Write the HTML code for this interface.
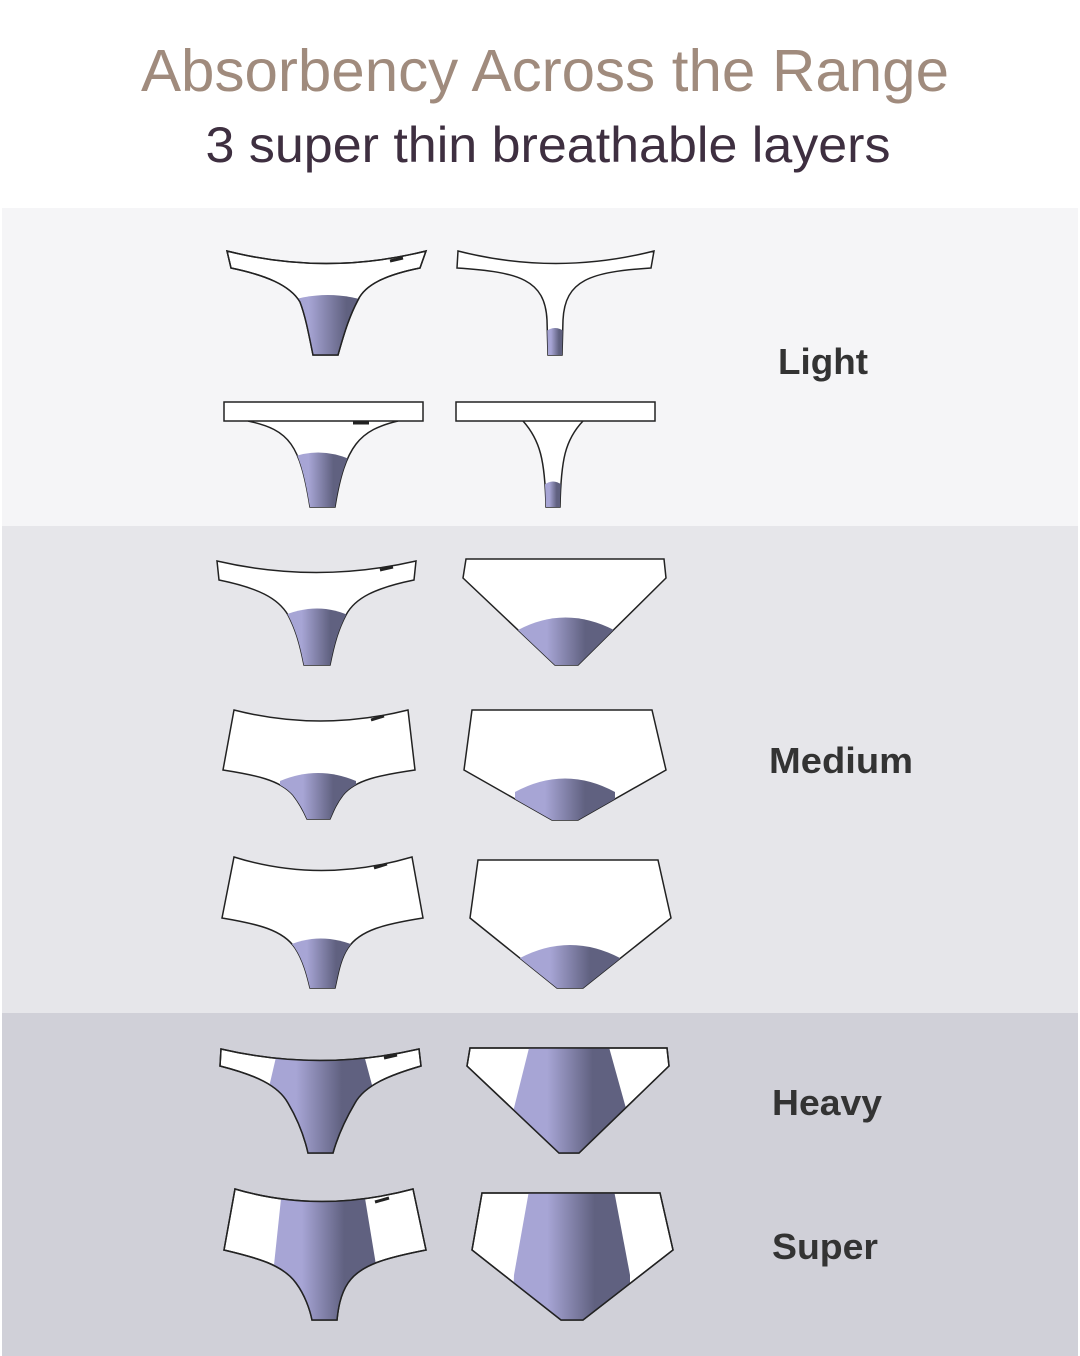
<!DOCTYPE html>
<html><head><meta charset="utf-8"><style>
html,body{margin:0;padding:0;background:#fff}
svg{display:block}
</style></head><body>
<svg width="1080" height="1356" viewBox="0 0 1080 1356" xmlns="http://www.w3.org/2000/svg">
<defs>
<linearGradient id="g" x1="0" y1="0" x2="1" y2="0">
<stop offset="0.3" stop-color="#a7a5d5"/><stop offset="0.7" stop-color="#606180"/>
</linearGradient>
</defs>
<rect width="1080" height="1356" fill="#fff"/>
<rect x="2" y="208" width="1076" height="318" fill="#f5f5f7"/>
<rect x="2" y="526" width="1076" height="487" fill="#e6e6ea"/>
<rect x="2" y="1013" width="1076" height="343" fill="#d0d0d8"/>
<text x="545" y="91" text-anchor="middle" font-family="Liberation Sans, sans-serif" font-size="59" fill="#a08b7d" textLength="808" lengthAdjust="spacingAndGlyphs">Absorbency Across the Range</text>
<text x="548" y="162" text-anchor="middle" font-family="Liberation Sans, sans-serif" font-size="50" fill="#3e2f40" textLength="685" lengthAdjust="spacingAndGlyphs">3 super thin breathable layers</text>
<g font-family="Liberation Sans, sans-serif" font-weight="bold" font-size="36" fill="#333" text-anchor="middle">
<text x="823" y="374" textLength="90" lengthAdjust="spacingAndGlyphs">Light</text>
<text x="841" y="773" textLength="144" lengthAdjust="spacingAndGlyphs">Medium</text>
<text x="827" y="1115" textLength="110" lengthAdjust="spacingAndGlyphs">Heavy</text>
<text x="825" y="1259" textLength="106" lengthAdjust="spacingAndGlyphs">Super</text>
</g>
<g stroke="#222" stroke-width="1.5" fill="#fff">
<!-- 1 -->
<clipPath id="c1"><path d="M227,251 Q326,276 426,251 L420,268 C385,275 365,285 358,300 C350,315 345,330 338,355 L313,355 C308,330 305,315 300,302 C290,285 265,275 231,268 Z"/></clipPath>
<path d="M227,251 Q326,276 426,251 L420,268 C385,275 365,285 358,300 C350,315 345,330 338,355 L313,355 C308,330 305,315 300,302 C290,285 265,275 231,268 Z"/>
<path clip-path="url(#c1)" d="M280,304 Q328,286 375,304 L375,360 L280,360 Z" fill="url(#g)" stroke="none"/>
<path d="M227,251 Q326,276 426,251 L420,268 C385,275 365,285 358,300 C350,315 345,330 338,355 L313,355 C308,330 305,315 300,302 C290,285 265,275 231,268 Z" fill="none"/>
<path d="M390,261 L403,258" stroke-width="3"/>
<!-- 2 -->
<clipPath id="c2"><path d="M458,251 Q556,276 654,251 L651,268 C590,272 565,280 563,320 L562,355 L548,355 L547,320 C545,280 520,272 457,268 Z"/></clipPath>
<path d="M458,251 Q556,276 654,251 L651,268 C590,272 565,280 563,320 L562,355 L548,355 L547,320 C545,280 520,272 457,268 Z"/>
<path clip-path="url(#c2)" d="M545,332 Q555,324 565,332 L565,360 L545,360 Z" fill="url(#g)" stroke="none"/>
<!-- 3 -->
<clipPath id="c3"><path d="M248,421 C290,430 300,445 310,507 L335,507 C345,445 360,430 398,421 Z"/></clipPath>
<path d="M248,421 C290,430 300,445 310,507 L335,507 C345,445 360,430 398,421"/>
<path clip-path="url(#c3)" d="M290,458 Q320,446 352,460 L352,510 L290,510 Z" fill="url(#g)" stroke="none"/>
<rect x="224" y="402" width="199" height="19"/>
<path d="M353,423 L369,423" stroke-width="3"/>
<!-- 4 -->
<clipPath id="c4"><path d="M523,421 C540,440 545,460 546,507 L560,507 C561,460 565,440 583,421 Z"/></clipPath>
<path d="M523,421 C540,440 545,460 546,507 L560,507 C561,460 565,440 583,421"/>
<path clip-path="url(#c4)" d="M544,485 Q553,478 562,485 L562,510 L544,510 Z" fill="url(#g)" stroke="none"/>
<rect x="456" y="402" width="199" height="19"/>
<!-- 5 -->
<clipPath id="c5"><path d="M217,561 Q316,584 416,561 L414,580 C375,588 355,598 346,615 C338,630 334,645 330,665 L304,665 C300,645 296,630 288,615 C278,598 258,588 219,580 Z"/></clipPath>
<path d="M217,561 Q316,584 416,561 L414,580 C375,588 355,598 346,615 C338,630 334,645 330,665 L304,665 C300,645 296,630 288,615 C278,598 258,588 219,580 Z"/>
<path clip-path="url(#c5)" d="M280,617 Q318,600 352,617 L352,670 L280,670 Z" fill="url(#g)" stroke="none"/>
<path d="M380,570 L393,567" stroke-width="3"/>
<!-- 6 -->
<clipPath id="c6"><path d="M466,559 L664,559 L666,578 L578,665 L555,665 L463,578 Z"/></clipPath>
<path d="M466,559 L664,559 L666,578 L578,665 L555,665 L463,578 Z"/>
<path clip-path="url(#c6)" d="M518,630 Q565,605 614,630 L614,670 L518,670 Z" fill="url(#g)" stroke="none"/>
<!-- 7 -->
<clipPath id="c7"><path d="M234,710 Q320,732 408,710 L415,770 C380,775 355,780 343,795 C336,804 333,812 330,819 L307,819 C304,812 300,804 293,795 C280,780 255,775 223,770 Z"/></clipPath>
<path d="M234,710 Q320,732 408,710 L415,770 C380,775 355,780 343,795 C336,804 333,812 330,819 L307,819 C304,812 300,804 293,795 C280,780 255,775 223,770 Z"/>
<path clip-path="url(#c7)" d="M280,781 Q318,765 356,781 L356,822 L280,822 Z" fill="url(#g)" stroke="none"/>
<path d="M371,720 L384,716" stroke-width="3"/>
<!-- 8 -->
<clipPath id="c8"><path d="M472,710 L652,710 L666,770 L578,820 L552,820 L464,770 Z"/></clipPath>
<path d="M472,710 L652,710 L666,770 L578,820 L552,820 L464,770 Z"/>
<path clip-path="url(#c8)" d="M515,792 Q565,765 615,792 L615,825 L515,825 Z" fill="url(#g)" stroke="none"/>
<!-- 9 -->
<clipPath id="c9"><path d="M234,857 Q320,884 412,857 L423,918 C385,924 360,930 348,948 C340,960 338,975 335,988 L310,988 C307,975 303,960 295,948 C283,930 258,924 222,918 Z"/></clipPath>
<path d="M234,857 Q320,884 412,857 L423,918 C385,924 360,930 348,948 C340,960 338,975 335,988 L310,988 C307,975 303,960 295,948 C283,930 258,924 222,918 Z"/>
<path clip-path="url(#c9)" d="M285,947 Q320,930 358,947 L358,992 L285,992 Z" fill="url(#g)" stroke="none"/>
<path d="M374,868 L387,864" stroke-width="3"/>
<!-- 10 -->
<clipPath id="c10"><path d="M478,860 L658,860 L671,918 L583,988 L557,988 L470,918 Z"/></clipPath>
<path d="M478,860 L658,860 L671,918 L583,988 L557,988 L470,918 Z"/>
<path clip-path="url(#c10)" d="M520,958 Q570,932 620,958 L620,992 L520,992 Z" fill="url(#g)" stroke="none"/>
<!-- 11 -->
<clipPath id="c11"><path d="M221,1049 Q320,1072 419,1049 L421,1066 C390,1075 365,1085 355,1103 C345,1120 338,1135 333,1153 L308,1153 C304,1135 298,1120 288,1103 C278,1085 255,1075 220,1066 Z"/></clipPath>
<path d="M221,1049 Q320,1072 419,1049 L421,1066 C390,1075 365,1085 355,1103 C345,1120 338,1135 333,1153 L308,1153 C304,1135 298,1120 288,1103 C278,1085 255,1075 220,1066 Z"/>
<path clip-path="url(#c11)" d="M280,1040 L360,1040 L376,1100 L376,1160 L262,1160 L266,1100 Z" fill="url(#g)" stroke="none"/>
<path d="M221,1049 Q320,1072 419,1049 L421,1066 C390,1075 365,1085 355,1103 C345,1120 338,1135 333,1153 L308,1153 C304,1135 298,1120 288,1103 C278,1085 255,1075 220,1066 Z" fill="none"/>
<path d="M384,1058 L397,1055" stroke-width="3"/>
<!-- 12 -->
<clipPath id="c12"><path d="M470,1048 L667,1048 L669,1066 L579,1153 L559,1153 L467,1066 Z"/></clipPath>
<path d="M470,1048 L667,1048 L669,1066 L579,1153 L559,1153 L467,1066 Z"/>
<path clip-path="url(#c12)" d="M531,1040 L607,1040 L627,1112 L627,1160 L513,1160 L513,1112 Z" fill="url(#g)" stroke="none"/>
<path d="M470,1048 L667,1048 L669,1066 L579,1153 L559,1153 L467,1066 Z" fill="none"/>
<!-- 13 -->
<clipPath id="c13"><path d="M235,1189 Q320,1214 413,1189 L426,1250 C385,1258 360,1265 348,1283 C340,1295 338,1310 337,1320 L312,1320 C310,1310 305,1295 296,1283 C283,1265 258,1258 224,1250 Z"/></clipPath>
<path d="M235,1189 Q320,1214 413,1189 L426,1250 C385,1258 360,1265 348,1283 C340,1295 338,1310 337,1320 L312,1320 C310,1310 305,1295 296,1283 C283,1265 258,1258 224,1250 Z"/>
<path clip-path="url(#c13)" d="M283,1180 L362,1180 L376,1265 L376,1325 L270,1325 L274,1265 Z" fill="url(#g)" stroke="none"/>
<path d="M235,1189 Q320,1214 413,1189 L426,1250 C385,1258 360,1265 348,1283 C340,1295 338,1310 337,1320 L312,1320 C310,1310 305,1295 296,1283 C283,1265 258,1258 224,1250 Z" fill="none"/>
<path d="M375,1202 L389,1198" stroke-width="3"/>
<!-- 14 -->
<clipPath id="c14"><path d="M482,1193 L660,1193 L673,1250 L583,1320 L561,1320 L472,1250 Z"/></clipPath>
<path d="M482,1193 L660,1193 L673,1250 L583,1320 L561,1320 L472,1250 Z"/>
<path clip-path="url(#c14)" d="M530,1185 L613,1185 L630,1275 L630,1325 L512,1325 L514,1275 Z" fill="url(#g)" stroke="none"/>
<path d="M482,1193 L660,1193 L673,1250 L583,1320 L561,1320 L472,1250 Z" fill="none"/>
</g>
</svg>
</body></html>
